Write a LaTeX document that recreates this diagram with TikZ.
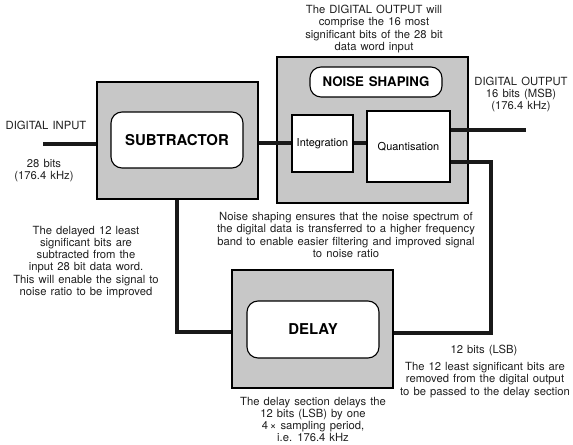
\documentclass[tikz,border=0pt]{standalone}
\usepackage{fontspec}
\setmainfont{TeX Gyre Heros}[WordSpace=1.3]
\begin{document}
\begin{tikzpicture}[x=1bp,y=-1bp,
  outerbox/.style={draw=black,line width=1.8bp,fill=black!22,inner sep=0pt},
  innerround/.style={draw=black,line width=1.1bp,fill=white,rounded corners=11bp,inner sep=0pt,font=\fontsize{15}{15}\selectfont\bfseries},
  subbox/.style={draw=black,line width=1.5bp,fill=white,inner sep=0pt,font=\fontsize{11}{12}\selectfont},
  note/.style={align=center,inner sep=0pt,font=\fontsize{11.3}{12.2}\selectfont,text=black!88},
  bus/.style={line width=4bp,draw=black!90},
  loop/.style={line width=3.2bp,draw=black!90}]
\useasboundingbox (0,0) rectangle (573,445);
% outer boxes
\node[outerbox,minimum width=161bp,minimum height=117bp] (sub) at (177.5,140.5) {};
\node[outerbox,minimum width=191bp,minimum height=146bp] (ns) at (372.5,130) {};
\node[outerbox,minimum width=161bp,minimum height=118bp] (del) at (312.5,329) {};
% inner boxes
\node[innerround,minimum width=132bp,minimum height=56bp] (subin) at (177,140) {SUBTRACTOR};
\node[innerround,minimum width=132bp,minimum height=30bp,font=\fontsize{13.3}{14}\selectfont\bfseries] (nsin) at (376,82) {NOISE SHAPING};
\node[innerround,minimum width=132bp,minimum height=57bp] (delin) at (313,329.5) {DELAY};
\node[subbox,minimum width=61bp,minimum height=57bp] (integ) at (322.5,143.5) {Integration};
\node[subbox,minimum width=83bp,minimum height=71bp] (quant) at (408.5,146.5) {Quantisation};
% coordinates
\coordinate (in) at (43,144);
\coordinate (out) at (526,130);
\coordinate (fb) at (491,162);
\coordinate (c1) at (491,333);
\coordinate (c2) at (177,332);
% connectors
\draw[bus] (in) -- (in -| sub.west);
\draw[bus] (integ.west) -- (integ.west -| sub.east);
\draw[bus] (integ.east) -- (integ.east -| quant.west);
\draw[bus] (out -| quant.east) -- (out);
\draw[loop] (fb -| quant.east) -- (fb) -- (c1) -- (c1 -| del.east);
\draw[loop] (c2 -| del.west) -- (c2) -- (c2 |- sub.south);
% texts
\node[note] (t1) at (46,125) {DIGITAL INPUT};
\node[note] (t2) at (44,171) {28 bits\\(176.4 kHz)};
\node[note] (t3) at (374,29) {The DIGITAL OUTPUT will\\comprise the 16 most\\significant bits of the 28 bit\\data word input};
\node[note] (t4) at (521,94.5) {DIGITAL OUTPUT\\16 bits (MSB)\\(176.4 kHz)};
\node[note] (t5) at (346,235) {Noise shaping ensures that the noise spectrum of\\the digital data is transferred to a higher frequency\\band to enable easier filtering and improved signal\\to noise ratio};
\node[note] (t6) at (86,262) {The delayed 12 least\\significant bits are\\subtracted from the\\input 28 bit data word.\\This will enable the signal to\\noise ratio to be improved};
\node[note] (t7) at (484,350) {12 bits (LSB)};
\node[note] (t8) at (485,380) {The 12 least significant bits are\\removed from the digital output\\to be passed to the delay section};
\node[note] (t9) at (313,419.5) {The delay section delays the\\12 bits (LSB) by one\\4\,× sampling period,\\i.e. 176.4 kHz};
\end{tikzpicture}
\end{document}
